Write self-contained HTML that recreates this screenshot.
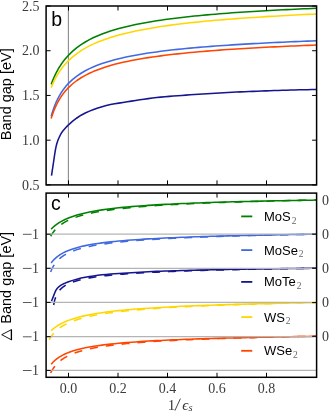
<!DOCTYPE html>
<html><head><meta charset="utf-8"><style>
html,body{margin:0;padding:0;background:#fff;width:329px;height:415px;overflow:hidden}
svg{display:block;will-change:transform}
</style></head><body>
<svg width="329" height="415" viewBox="0 0 329 415">
<rect width="329" height="415" fill="#fff"/>
<line x1="68.4" y1="6.0" x2="68.4" y2="184.9" stroke="#8c8c8c" stroke-width="1.1"/>
<path d="M51.17,84.37 L51.62,83.18 L52.06,82.03 L52.51,80.91 L52.95,79.83 L53.40,78.78 L53.84,77.76 L54.28,76.76 L54.73,75.80 L55.17,74.87 L55.62,73.96 L56.06,73.07 L56.51,72.21 L56.95,71.37 L57.39,70.55 L57.84,69.76 L58.28,68.98 L58.73,68.22 L59.17,67.48 L59.62,66.76 L60.06,66.06 L60.50,65.37 L60.95,64.70 L61.39,64.04 L61.84,63.40 L62.28,62.77 L62.73,62.15 L63.17,61.55 L63.61,60.96 L64.06,60.38 L64.50,59.82 L64.95,59.26 L65.39,58.72 L65.83,58.19 L66.28,57.67 L66.72,57.16 L67.17,56.66 L67.61,56.16 L68.06,55.68 L68.50,55.21 L72.69,51.13 L76.89,47.64 L81.08,44.63 L85.28,41.98 L89.47,39.65 L93.67,37.56 L97.86,35.68 L102.06,33.99 L106.25,32.44 L110.45,31.03 L114.64,29.73 L118.84,28.53 L123.03,27.42 L127.23,26.39 L131.42,25.43 L135.62,24.53 L139.81,23.69 L144.01,22.90 L148.20,22.15 L152.40,21.45 L156.59,20.78 L160.79,20.15 L164.98,19.55 L169.18,18.98 L173.37,18.44 L177.57,17.92 L181.76,17.43 L185.96,16.96 L190.15,16.51 L194.35,16.07 L198.54,15.66 L202.74,15.26 L206.93,14.88 L211.13,14.51 L215.32,14.15 L219.52,13.81 L223.71,13.48 L227.91,13.16 L232.10,12.85 L236.30,12.56 L240.49,12.27 L244.69,11.99 L248.88,11.72 L253.08,11.46 L257.27,11.21 L261.47,10.96 L265.66,10.72 L269.86,10.49 L274.05,10.26 L278.25,10.05 L282.44,9.83 L286.64,9.62 L290.83,9.42 L295.03,9.23 L299.22,9.03 L303.42,8.85 L307.61,8.66 L311.81,8.49 L316.00,8.31" stroke="#008000" stroke-width="1.55" fill="none" stroke-linejoin="round"/>
<path d="M51.17,87.60 L51.62,86.51 L52.06,85.45 L52.51,84.42 L52.95,83.43 L53.40,82.46 L53.84,81.52 L54.28,80.61 L54.73,79.73 L55.17,78.87 L55.62,78.03 L56.06,77.21 L56.51,76.42 L56.95,75.64 L57.39,74.89 L57.84,74.15 L58.28,73.44 L58.73,72.74 L59.17,72.05 L59.62,71.39 L60.06,70.74 L60.50,70.10 L60.95,69.47 L61.39,68.87 L61.84,68.27 L62.28,67.69 L62.73,67.12 L63.17,66.56 L63.61,66.01 L64.06,65.47 L64.50,64.95 L64.95,64.43 L65.39,63.93 L65.83,63.43 L66.28,62.94 L66.72,62.47 L67.17,62.00 L67.61,61.54 L68.06,61.09 L68.50,60.65 L72.69,56.82 L76.89,53.53 L81.08,50.67 L85.28,48.15 L89.47,45.91 L93.67,43.89 L97.86,42.08 L102.06,40.43 L106.25,38.92 L110.45,37.53 L114.64,36.25 L118.84,35.06 L123.03,33.96 L127.23,32.93 L131.42,31.96 L135.62,31.06 L139.81,30.21 L144.01,29.41 L148.20,28.65 L152.40,27.93 L156.59,27.25 L160.79,26.60 L164.98,25.98 L169.18,25.39 L173.37,24.83 L177.57,24.30 L181.76,23.78 L185.96,23.29 L190.15,22.82 L194.35,22.36 L198.54,21.93 L202.74,21.51 L206.93,21.10 L211.13,20.71 L215.32,20.34 L219.52,19.97 L223.71,19.62 L227.91,19.28 L232.10,18.95 L236.30,18.63 L240.49,18.32 L244.69,18.02 L248.88,17.73 L253.08,17.45 L257.27,17.17 L261.47,16.90 L265.66,16.64 L269.86,16.39 L274.05,16.15 L278.25,15.91 L282.44,15.67 L286.64,15.44 L290.83,15.22 L295.03,15.01 L299.22,14.79 L303.42,14.59 L307.61,14.39 L311.81,14.19 L316.00,14.00" stroke="#ffd700" stroke-width="1.55" fill="none" stroke-linejoin="round"/>
<path d="M51.17,116.33 L51.62,114.77 L52.06,113.29 L52.51,111.86 L52.95,110.51 L53.40,109.20 L53.84,107.96 L54.28,106.76 L54.73,105.61 L55.17,104.50 L55.62,103.43 L56.06,102.41 L56.51,101.42 L56.95,100.46 L57.39,99.53 L57.84,98.64 L58.28,97.78 L58.73,96.94 L59.17,96.13 L59.62,95.34 L60.06,94.58 L60.50,93.84 L60.95,93.12 L61.39,92.42 L61.84,91.74 L62.28,91.08 L62.73,90.43 L63.17,89.81 L63.61,89.20 L64.06,88.60 L64.50,88.02 L64.95,87.45 L65.39,86.90 L65.83,86.36 L66.28,85.84 L66.72,85.32 L67.17,84.82 L67.61,84.33 L68.06,83.85 L68.50,83.38 L72.69,79.39 L76.89,76.07 L81.08,73.24 L85.28,70.79 L89.47,68.65 L93.67,66.76 L97.86,65.07 L102.06,63.56 L106.25,62.18 L110.45,60.92 L114.64,59.78 L118.84,58.72 L123.03,57.74 L127.23,56.83 L131.42,55.98 L135.62,55.19 L139.81,54.45 L144.01,53.76 L148.20,53.10 L152.40,52.48 L156.59,51.90 L160.79,51.34 L164.98,50.82 L169.18,50.32 L173.37,49.84 L177.57,49.38 L181.76,48.95 L185.96,48.53 L190.15,48.13 L194.35,47.75 L198.54,47.38 L202.74,47.03 L206.93,46.69 L211.13,46.36 L215.32,46.05 L219.52,45.74 L223.71,45.45 L227.91,45.17 L232.10,44.89 L236.30,44.63 L240.49,44.37 L244.69,44.12 L248.88,43.88 L253.08,43.64 L257.27,43.42 L261.47,43.20 L265.66,42.98 L269.86,42.77 L274.05,42.57 L278.25,42.37 L282.44,42.18 L286.64,41.99 L290.83,41.81 L295.03,41.63 L299.22,41.46 L303.42,41.29 L307.61,41.12 L311.81,40.96 L316.00,40.80" stroke="#4169e1" stroke-width="1.55" fill="none" stroke-linejoin="round"/>
<path d="M51.17,118.47 L51.62,117.05 L52.06,115.70 L52.51,114.40 L52.95,113.15 L53.40,111.96 L53.84,110.81 L54.28,109.70 L54.73,108.64 L55.17,107.61 L55.62,106.62 L56.06,105.66 L56.51,104.74 L56.95,103.84 L57.39,102.98 L57.84,102.14 L58.28,101.33 L58.73,100.54 L59.17,99.77 L59.62,99.03 L60.06,98.31 L60.50,97.61 L60.95,96.93 L61.39,96.26 L61.84,95.62 L62.28,94.99 L62.73,94.37 L63.17,93.78 L63.61,93.19 L64.06,92.62 L64.50,92.07 L64.95,91.53 L65.39,91.00 L65.83,90.48 L66.28,89.97 L66.72,89.48 L67.17,89.00 L67.61,88.52 L68.06,88.06 L68.50,87.61 L72.69,83.74 L76.89,80.50 L81.08,77.73 L85.28,75.33 L89.47,73.22 L93.67,71.34 L97.86,69.67 L102.06,68.15 L106.25,66.78 L110.45,65.53 L114.64,64.37 L118.84,63.31 L123.03,62.33 L127.23,61.41 L131.42,60.56 L135.62,59.76 L139.81,59.01 L144.01,58.31 L148.20,57.64 L152.40,57.02 L156.59,56.42 L160.79,55.86 L164.98,55.32 L169.18,54.81 L173.37,54.33 L177.57,53.86 L181.76,53.42 L185.96,52.99 L190.15,52.59 L194.35,52.20 L198.54,51.82 L202.74,51.46 L206.93,51.11 L211.13,50.78 L215.32,50.45 L219.52,50.14 L223.71,49.84 L227.91,49.55 L232.10,49.27 L236.30,48.99 L240.49,48.73 L244.69,48.47 L248.88,48.22 L253.08,47.98 L257.27,47.75 L261.47,47.52 L265.66,47.30 L269.86,47.08 L274.05,46.87 L278.25,46.67 L282.44,46.47 L286.64,46.28 L290.83,46.09 L295.03,45.90 L299.22,45.72 L303.42,45.55 L307.61,45.37 L311.81,45.21 L316.00,45.04" stroke="#ff4500" stroke-width="1.55" fill="none" stroke-linejoin="round"/>
<path d="M51.50,175.60 L51.94,172.77 L52.37,169.93 L52.81,167.08 L53.24,164.21 L53.68,161.25 L54.12,158.23 L54.55,155.26 L54.99,152.47 L55.42,149.93 L55.86,147.60 L56.29,145.70 L56.73,144.05 L57.17,142.58 L57.60,141.26 L58.04,140.06 L58.47,138.97 L58.91,137.97 L59.35,137.03 L59.78,136.14 L60.22,135.27 L60.65,134.43 L61.09,133.63 L61.53,132.88 L61.96,132.20 L62.40,131.59 L62.83,131.03 L63.27,130.51 L63.71,130.02 L64.14,129.54 L64.58,129.07 L65.01,128.59 L65.45,128.09 L65.88,127.59 L66.32,127.10 L66.76,126.61 L67.19,126.14 L67.63,125.67 L68.06,125.23 L68.50,124.81 L72.69,121.18 L76.89,117.98 L81.08,115.22 L85.28,113.05 L89.47,111.13 L93.67,109.51 L97.86,108.01 L102.06,106.66 L106.25,105.53 L110.45,104.61 L114.64,103.83 L118.84,103.12 L123.03,102.47 L127.23,101.80 L131.42,101.14 L135.62,100.48 L139.81,99.83 L144.01,99.21 L148.20,98.62 L152.40,98.07 L156.59,97.57 L160.79,97.12 L164.98,96.73 L169.18,96.37 L173.37,96.05 L177.57,95.74 L181.76,95.44 L185.96,95.14 L190.15,94.84 L194.35,94.55 L198.54,94.26 L202.74,93.98 L206.93,93.70 L211.13,93.44 L215.32,93.18 L219.52,92.93 L223.71,92.69 L227.91,92.47 L232.10,92.26 L236.30,92.06 L240.49,91.88 L244.69,91.71 L248.88,91.53 L253.08,91.37 L257.27,91.20 L261.47,91.04 L265.66,90.88 L269.86,90.73 L274.05,90.58 L278.25,90.44 L282.44,90.31 L286.64,90.18 L290.83,90.06 L295.03,89.95 L299.22,89.84 L303.42,89.75 L307.61,89.66 L311.81,89.58 L316.00,89.51" stroke="#15158f" stroke-width="1.55" fill="none" stroke-linejoin="round"/>
<path d="M51.17,229.10 L51.62,228.64 L52.06,228.20 L52.51,227.78 L52.95,227.36 L53.40,226.96 L53.84,226.57 L54.28,226.20 L54.73,225.83 L55.17,225.47 L55.62,225.12 L56.06,224.79 L56.51,224.46 L56.95,224.14 L57.39,223.83 L57.84,223.52 L58.28,223.23 L58.73,222.94 L59.17,222.66 L59.62,222.38 L60.06,222.11 L60.50,221.85 L60.95,221.59 L61.39,221.34 L61.84,221.10 L62.28,220.86 L62.73,220.62 L63.17,220.39 L63.61,220.17 L64.06,219.95 L64.50,219.73 L64.95,219.52 L65.39,219.32 L65.83,219.11 L66.28,218.92 L66.72,218.72 L67.17,218.53 L67.61,218.34 L68.06,218.16 L68.50,217.98 L72.69,216.42 L76.89,215.09 L81.08,213.94 L85.28,212.94 L89.47,212.04 L93.67,211.25 L97.86,210.53 L102.06,209.89 L106.25,209.30 L110.45,208.76 L114.64,208.27 L118.84,207.81 L123.03,207.39 L127.23,206.99 L131.42,206.63 L135.62,206.28 L139.81,205.96 L144.01,205.66 L148.20,205.38 L152.40,205.11 L156.59,204.85 L160.79,204.61 L164.98,204.38 L169.18,204.17 L173.37,203.96 L177.57,203.76 L181.76,203.58 L185.96,203.40 L190.15,203.22 L194.35,203.06 L198.54,202.90 L202.74,202.75 L206.93,202.60 L211.13,202.46 L215.32,202.33 L219.52,202.20 L223.71,202.07 L227.91,201.95 L232.10,201.83 L236.30,201.72 L240.49,201.61 L244.69,201.50 L248.88,201.40 L253.08,201.30 L257.27,201.20 L261.47,201.11 L265.66,201.02 L269.86,200.93 L274.05,200.84 L278.25,200.76 L282.44,200.68 L286.64,200.60 L290.83,200.52 L295.03,200.45 L299.22,200.37 L303.42,200.30 L307.61,200.23 L311.81,200.17 L316.00,200.10" stroke="#008000" stroke-width="1.55" fill="none" stroke-linejoin="round"/>
<path d="M51.17,262.99 L51.62,262.40 L52.06,261.83 L52.51,261.29 L52.95,260.77 L53.40,260.28 L53.84,259.80 L54.28,259.34 L54.73,258.91 L55.17,258.48 L55.62,258.08 L56.06,257.69 L56.51,257.31 L56.95,256.94 L57.39,256.59 L57.84,256.25 L58.28,255.92 L58.73,255.60 L59.17,255.29 L59.62,254.99 L60.06,254.70 L60.50,254.42 L60.95,254.14 L61.39,253.88 L61.84,253.62 L62.28,253.37 L62.73,253.12 L63.17,252.88 L63.61,252.65 L64.06,252.42 L64.50,252.20 L64.95,251.99 L65.39,251.78 L65.83,251.57 L66.28,251.37 L66.72,251.17 L67.17,250.98 L67.61,250.79 L68.06,250.61 L68.50,250.43 L72.69,248.91 L76.89,247.64 L81.08,246.57 L85.28,245.63 L89.47,244.82 L93.67,244.10 L97.86,243.45 L102.06,242.88 L106.25,242.35 L110.45,241.87 L114.64,241.43 L118.84,241.03 L123.03,240.66 L127.23,240.31 L131.42,239.99 L135.62,239.69 L139.81,239.41 L144.01,239.14 L148.20,238.89 L152.40,238.65 L156.59,238.43 L160.79,238.22 L164.98,238.02 L169.18,237.83 L173.37,237.65 L177.57,237.47 L181.76,237.31 L185.96,237.15 L190.15,237.00 L194.35,236.85 L198.54,236.71 L202.74,236.58 L206.93,236.45 L211.13,236.32 L215.32,236.20 L219.52,236.09 L223.71,235.97 L227.91,235.87 L232.10,235.76 L236.30,235.66 L240.49,235.56 L244.69,235.47 L248.88,235.37 L253.08,235.28 L257.27,235.20 L261.47,235.11 L265.66,235.03 L269.86,234.95 L274.05,234.87 L278.25,234.80 L282.44,234.73 L286.64,234.65 L290.83,234.58 L295.03,234.52 L299.22,234.45 L303.42,234.39 L307.61,234.32 L311.81,234.26 L316.00,234.20" stroke="#4169e1" stroke-width="1.55" fill="none" stroke-linejoin="round"/>
<path d="M51.50,301.12 L51.94,300.04 L52.37,298.96 L52.81,297.87 L53.24,296.78 L53.68,295.65 L54.12,294.49 L54.55,293.36 L54.99,292.30 L55.42,291.33 L55.86,290.44 L56.29,289.72 L56.73,289.09 L57.17,288.53 L57.60,288.03 L58.04,287.57 L58.47,287.15 L58.91,286.77 L59.35,286.41 L59.78,286.07 L60.22,285.74 L60.65,285.42 L61.09,285.12 L61.53,284.83 L61.96,284.57 L62.40,284.34 L62.83,284.13 L63.27,283.93 L63.71,283.74 L64.14,283.56 L64.58,283.38 L65.01,283.19 L65.45,283.01 L65.88,282.82 L66.32,282.63 L66.76,282.44 L67.19,282.26 L67.63,282.08 L68.06,281.92 L68.50,281.75 L72.69,280.37 L76.89,279.15 L81.08,278.10 L85.28,277.27 L89.47,276.54 L93.67,275.92 L97.86,275.35 L102.06,274.84 L106.25,274.40 L110.45,274.06 L114.64,273.76 L118.84,273.49 L123.03,273.24 L127.23,272.99 L131.42,272.73 L135.62,272.48 L139.81,272.23 L144.01,272.00 L148.20,271.77 L152.40,271.56 L156.59,271.37 L160.79,271.20 L164.98,271.05 L169.18,270.91 L173.37,270.79 L177.57,270.67 L181.76,270.56 L185.96,270.44 L190.15,270.33 L194.35,270.22 L198.54,270.11 L202.74,270.00 L206.93,269.90 L211.13,269.79 L215.32,269.70 L219.52,269.60 L223.71,269.51 L227.91,269.43 L232.10,269.35 L236.30,269.27 L240.49,269.20 L244.69,269.14 L248.88,269.07 L253.08,269.01 L257.27,268.94 L261.47,268.88 L265.66,268.82 L269.86,268.76 L274.05,268.71 L278.25,268.65 L282.44,268.60 L286.64,268.55 L290.83,268.51 L295.03,268.47 L299.22,268.43 L303.42,268.39 L307.61,268.36 L311.81,268.33 L316.00,268.30" stroke="#15158f" stroke-width="1.55" fill="none" stroke-linejoin="round"/>
<path d="M51.17,330.66 L51.62,330.24 L52.06,329.84 L52.51,329.45 L52.95,329.07 L53.40,328.70 L53.84,328.34 L54.28,328.00 L54.73,327.66 L55.17,327.33 L55.62,327.01 L56.06,326.70 L56.51,326.40 L56.95,326.10 L57.39,325.81 L57.84,325.53 L58.28,325.26 L58.73,324.99 L59.17,324.73 L59.62,324.48 L60.06,324.23 L60.50,323.99 L60.95,323.75 L61.39,323.52 L61.84,323.29 L62.28,323.07 L62.73,322.85 L63.17,322.64 L63.61,322.43 L64.06,322.22 L64.50,322.02 L64.95,321.83 L65.39,321.63 L65.83,321.45 L66.28,321.26 L66.72,321.08 L67.17,320.90 L67.61,320.72 L68.06,320.55 L68.50,320.38 L72.69,318.92 L76.89,317.67 L81.08,316.58 L85.28,315.62 L89.47,314.76 L93.67,314.00 L97.86,313.31 L102.06,312.68 L106.25,312.10 L110.45,311.57 L114.64,311.08 L118.84,310.63 L123.03,310.21 L127.23,309.82 L131.42,309.45 L135.62,309.10 L139.81,308.78 L144.01,308.47 L148.20,308.19 L152.40,307.91 L156.59,307.65 L160.79,307.40 L164.98,307.17 L169.18,306.95 L173.37,306.73 L177.57,306.53 L181.76,306.33 L185.96,306.14 L190.15,305.96 L194.35,305.79 L198.54,305.62 L202.74,305.46 L206.93,305.31 L211.13,305.16 L215.32,305.02 L219.52,304.88 L223.71,304.74 L227.91,304.61 L232.10,304.49 L236.30,304.37 L240.49,304.25 L244.69,304.13 L248.88,304.02 L253.08,303.92 L257.27,303.81 L261.47,303.71 L265.66,303.61 L269.86,303.51 L274.05,303.42 L278.25,303.33 L282.44,303.24 L286.64,303.15 L290.83,303.07 L295.03,302.98 L299.22,302.90 L303.42,302.83 L307.61,302.75 L311.81,302.67 L316.00,302.60" stroke="#ffd700" stroke-width="1.55" fill="none" stroke-linejoin="round"/>
<path d="M51.17,364.29 L51.62,363.75 L52.06,363.23 L52.51,362.74 L52.95,362.26 L53.40,361.81 L53.84,361.37 L54.28,360.95 L54.73,360.54 L55.17,360.15 L55.62,359.77 L56.06,359.41 L56.51,359.06 L56.95,358.72 L57.39,358.39 L57.84,358.07 L58.28,357.76 L58.73,357.46 L59.17,357.16 L59.62,356.88 L60.06,356.61 L60.50,356.34 L60.95,356.08 L61.39,355.83 L61.84,355.58 L62.28,355.34 L62.73,355.11 L63.17,354.88 L63.61,354.66 L64.06,354.44 L64.50,354.23 L64.95,354.02 L65.39,353.82 L65.83,353.62 L66.28,353.43 L66.72,353.24 L67.17,353.06 L67.61,352.88 L68.06,352.70 L68.50,352.53 L72.69,351.05 L76.89,349.82 L81.08,348.76 L85.28,347.85 L89.47,347.04 L93.67,346.33 L97.86,345.69 L102.06,345.11 L106.25,344.59 L110.45,344.11 L114.64,343.67 L118.84,343.26 L123.03,342.89 L127.23,342.54 L131.42,342.22 L135.62,341.91 L139.81,341.63 L144.01,341.36 L148.20,341.10 L152.40,340.86 L156.59,340.64 L160.79,340.42 L164.98,340.22 L169.18,340.02 L173.37,339.84 L177.57,339.66 L181.76,339.49 L185.96,339.33 L190.15,339.18 L194.35,339.03 L198.54,338.88 L202.74,338.75 L206.93,338.61 L211.13,338.49 L215.32,338.36 L219.52,338.24 L223.71,338.13 L227.91,338.02 L232.10,337.91 L236.30,337.81 L240.49,337.70 L244.69,337.61 L248.88,337.51 L253.08,337.42 L257.27,337.33 L261.47,337.24 L265.66,337.16 L269.86,337.08 L274.05,337.00 L278.25,336.92 L282.44,336.84 L286.64,336.77 L290.83,336.70 L295.03,336.63 L299.22,336.56 L303.42,336.49 L307.61,336.43 L311.81,336.36 L316.00,336.30" stroke="#ff4500" stroke-width="1.55" fill="none" stroke-linejoin="round"/>
<path d="M50.68,236.24 L51.14,235.44 L51.59,234.68 L52.05,233.97 L52.51,233.28 L52.96,232.63 L53.42,232.01 L53.88,231.42 L54.34,230.85 L54.79,230.31 L55.25,229.78 L55.71,229.28 L56.16,228.80 L56.62,228.34 L57.08,227.89 L57.53,227.46 L57.99,227.04 L58.45,226.64 L58.90,226.25 L59.36,225.87 L59.82,225.51 L60.28,225.15 L60.73,224.81 L61.19,224.48 L61.65,224.16 L62.10,223.84 L62.56,223.54 L63.02,223.24 L63.47,222.95 L63.93,222.67 L64.39,222.40 L64.84,222.13 L65.30,221.87 L65.76,221.62 L66.22,221.37 L66.67,221.13 L67.13,220.89 L67.59,220.66 L68.04,220.44 L68.50,220.21 L72.69,218.40 L76.89,216.88 L81.08,215.58 L85.28,214.46 L89.47,213.47 L93.67,212.60 L97.86,211.81 L102.06,211.11 L106.25,210.46 L110.45,209.87 L114.64,209.33 L118.84,208.84 L123.03,208.37 L127.23,207.94 L131.42,207.54 L135.62,207.16 L139.81,206.81 L144.01,206.47 L148.20,206.16 L152.40,205.86 L156.59,205.58 L160.79,205.31 L164.98,205.05 L169.18,204.81 L173.37,204.58 L177.57,204.36 L181.76,204.14 L185.96,203.94 L190.15,203.74 L194.35,203.55 L198.54,203.37 L202.74,203.20 L206.93,203.03 L211.13,202.87 L215.32,202.71 L219.52,202.56 L223.71,202.41 L227.91,202.27 L232.10,202.13 L236.30,202.00 L240.49,201.87 L244.69,201.75 L248.88,201.63 L253.08,201.51 L257.27,201.39 L261.47,201.28 L265.66,201.17 L269.86,201.07 L274.05,200.96 L278.25,200.86 L282.44,200.76 L286.64,200.67 L290.83,200.57 L295.03,200.48 L299.22,200.39 L303.42,200.31 L307.61,200.22 L311.81,200.14 L316.00,200.06" stroke="#008000" stroke-width="1.55" fill="none" stroke-dasharray="8 8"/>
<path d="M50.68,271.98 L51.14,270.81 L51.59,269.73 L52.05,268.74 L52.51,267.81 L52.96,266.95 L53.42,266.14 L53.88,265.38 L54.34,264.67 L54.79,263.99 L55.25,263.36 L55.71,262.75 L56.16,262.18 L56.62,261.64 L57.08,261.12 L57.53,260.62 L57.99,260.15 L58.45,259.69 L58.90,259.26 L59.36,258.84 L59.82,258.44 L60.28,258.05 L60.73,257.68 L61.19,257.32 L61.65,256.98 L62.10,256.64 L62.56,256.32 L63.02,256.01 L63.47,255.71 L63.93,255.41 L64.39,255.13 L64.84,254.85 L65.30,254.58 L65.76,254.32 L66.22,254.07 L66.67,253.83 L67.13,253.59 L67.59,253.35 L68.04,253.13 L68.50,252.91 L72.69,251.11 L76.89,249.63 L81.08,248.39 L85.28,247.33 L89.47,246.41 L93.67,245.59 L97.86,244.87 L102.06,244.22 L106.25,243.63 L110.45,243.09 L114.64,242.59 L118.84,242.14 L123.03,241.72 L127.23,241.33 L131.42,240.96 L135.62,240.62 L139.81,240.30 L144.01,239.99 L148.20,239.71 L152.40,239.44 L156.59,239.18 L160.79,238.94 L164.98,238.71 L169.18,238.49 L173.37,238.28 L177.57,238.07 L181.76,237.88 L185.96,237.69 L190.15,237.52 L194.35,237.35 L198.54,237.18 L202.74,237.02 L206.93,236.87 L211.13,236.72 L215.32,236.58 L219.52,236.44 L223.71,236.31 L227.91,236.18 L232.10,236.05 L236.30,235.93 L240.49,235.81 L244.69,235.70 L248.88,235.59 L253.08,235.48 L257.27,235.38 L261.47,235.27 L265.66,235.17 L269.86,235.08 L274.05,234.98 L278.25,234.89 L282.44,234.80 L286.64,234.71 L290.83,234.63 L295.03,234.54 L299.22,234.46 L303.42,234.38 L307.61,234.30 L311.81,234.23 L316.00,234.15" stroke="#4169e1" stroke-width="1.55" fill="none" stroke-dasharray="8 8"/>
<path d="M53.65,304.98 L54.03,303.00 L54.41,301.33 L54.79,299.89 L55.17,298.63 L55.55,297.52 L55.93,296.52 L56.32,295.62 L56.70,294.80 L57.08,294.05 L57.46,293.36 L57.84,292.72 L58.22,292.13 L58.60,291.57 L58.98,291.05 L59.36,290.57 L59.74,290.11 L60.12,289.67 L60.50,289.26 L60.88,288.87 L61.27,288.50 L61.65,288.15 L62.03,287.81 L62.41,287.49 L62.79,287.18 L63.17,286.89 L63.55,286.60 L63.93,286.33 L64.31,286.07 L64.69,285.81 L65.07,285.57 L65.45,285.33 L65.83,285.11 L66.22,284.89 L66.60,284.67 L66.98,284.47 L67.36,284.27 L67.74,284.07 L68.12,283.88 L68.50,283.70 L72.69,281.98 L76.89,280.64 L81.08,279.55 L85.28,278.65 L89.47,277.88 L93.67,277.21 L97.86,276.62 L102.06,276.09 L106.25,275.62 L110.45,275.20 L114.64,274.81 L118.84,274.45 L123.03,274.12 L127.23,273.81 L131.42,273.53 L135.62,273.26 L139.81,273.01 L144.01,272.77 L148.20,272.55 L152.40,272.34 L156.59,272.14 L160.79,271.95 L164.98,271.77 L169.18,271.60 L173.37,271.44 L177.57,271.28 L181.76,271.13 L185.96,270.99 L190.15,270.85 L194.35,270.71 L198.54,270.59 L202.74,270.46 L206.93,270.34 L211.13,270.23 L215.32,270.12 L219.52,270.01 L223.71,269.90 L227.91,269.80 L232.10,269.71 L236.30,269.61 L240.49,269.52 L244.69,269.43 L248.88,269.34 L253.08,269.26 L257.27,269.17 L261.47,269.09 L265.66,269.01 L269.86,268.94 L274.05,268.86 L278.25,268.79 L282.44,268.72 L286.64,268.65 L290.83,268.58 L295.03,268.51 L299.22,268.45 L303.42,268.39 L307.61,268.32 L311.81,268.26 L316.00,268.20" stroke="#15158f" stroke-width="1.55" fill="none" stroke-dasharray="8 8"/>
<path d="M49.20,339.79 L49.69,338.92 L50.19,338.11 L50.68,337.33 L51.17,336.60 L51.67,335.90 L52.16,335.24 L52.66,334.60 L53.16,334.00 L53.65,333.42 L54.15,332.87 L54.64,332.34 L55.13,331.83 L55.63,331.34 L56.12,330.87 L56.62,330.42 L57.12,329.98 L57.61,329.56 L58.11,329.15 L58.60,328.76 L59.09,328.37 L59.59,328.01 L60.09,327.65 L60.58,327.30 L61.08,326.97 L61.57,326.64 L62.06,326.32 L62.56,326.01 L63.05,325.72 L63.55,325.42 L64.05,325.14 L64.54,324.86 L65.03,324.59 L65.53,324.33 L66.03,324.08 L66.52,323.83 L67.02,323.58 L67.51,323.34 L68.00,323.11 L68.50,322.88 L72.69,321.14 L76.89,319.67 L81.08,318.41 L85.28,317.31 L89.47,316.33 L93.67,315.47 L97.86,314.68 L102.06,313.98 L106.25,313.33 L110.45,312.74 L114.64,312.19 L118.84,311.69 L123.03,311.22 L127.23,310.78 L131.42,310.37 L135.62,309.98 L139.81,309.62 L144.01,309.28 L148.20,308.95 L152.40,308.65 L156.59,308.36 L160.79,308.08 L164.98,307.82 L169.18,307.56 L173.37,307.32 L177.57,307.09 L181.76,306.87 L185.96,306.66 L190.15,306.45 L194.35,306.26 L198.54,306.07 L202.74,305.89 L206.93,305.71 L211.13,305.54 L215.32,305.38 L219.52,305.22 L223.71,305.07 L227.91,304.92 L232.10,304.77 L236.30,304.64 L240.49,304.50 L244.69,304.37 L248.88,304.24 L253.08,304.12 L257.27,303.99 L261.47,303.88 L265.66,303.76 L269.86,303.65 L274.05,303.54 L278.25,303.44 L282.44,303.33 L286.64,303.23 L290.83,303.13 L295.03,303.03 L299.22,302.94 L303.42,302.85 L307.61,302.76 L311.81,302.67 L316.00,302.58" stroke="#ffd700" stroke-width="1.55" fill="none" stroke-dasharray="8 8"/>
<path d="M50.68,372.98 L51.14,372.06 L51.59,371.20 L52.05,370.39 L52.51,369.62 L52.96,368.90 L53.42,368.21 L53.88,367.55 L54.34,366.92 L54.79,366.32 L55.25,365.75 L55.71,365.21 L56.16,364.68 L56.62,364.18 L57.08,363.70 L57.53,363.23 L57.99,362.79 L58.45,362.36 L58.90,361.94 L59.36,361.54 L59.82,361.16 L60.28,360.78 L60.73,360.42 L61.19,360.07 L61.65,359.73 L62.10,359.40 L62.56,359.08 L63.02,358.77 L63.47,358.47 L63.93,358.18 L64.39,357.90 L64.84,357.62 L65.30,357.35 L65.76,357.09 L66.22,356.83 L66.67,356.59 L67.13,356.34 L67.59,356.11 L68.04,355.88 L68.50,355.65 L72.69,353.80 L76.89,352.27 L81.08,350.98 L85.28,349.87 L89.47,348.90 L93.67,348.05 L97.86,347.28 L102.06,346.60 L106.25,345.98 L110.45,345.41 L114.64,344.90 L118.84,344.42 L123.03,343.98 L127.23,343.57 L131.42,343.19 L135.62,342.84 L139.81,342.50 L144.01,342.19 L148.20,341.90 L152.40,341.62 L156.59,341.35 L160.79,341.10 L164.98,340.86 L169.18,340.64 L173.37,340.42 L177.57,340.22 L181.76,340.02 L185.96,339.83 L190.15,339.65 L194.35,339.48 L198.54,339.31 L202.74,339.15 L206.93,339.00 L211.13,338.85 L215.32,338.70 L219.52,338.57 L223.71,338.43 L227.91,338.30 L232.10,338.18 L236.30,338.06 L240.49,337.94 L244.69,337.83 L248.88,337.72 L253.08,337.61 L257.27,337.50 L261.47,337.40 L265.66,337.30 L269.86,337.21 L274.05,337.12 L278.25,337.02 L282.44,336.94 L286.64,336.85 L290.83,336.77 L295.03,336.68 L299.22,336.60 L303.42,336.53 L307.61,336.45 L311.81,336.37 L316.00,336.30" stroke="#ff4500" stroke-width="1.55" fill="none" stroke-dasharray="8 8"/>
<line x1="46.1" y1="234.20" x2="316.6" y2="234.20" stroke="#b4b4b4" stroke-width="1.2"/>
<line x1="46.1" y1="268.30" x2="316.6" y2="268.30" stroke="#b4b4b4" stroke-width="1.2"/>
<line x1="46.1" y1="302.40" x2="316.6" y2="302.40" stroke="#b4b4b4" stroke-width="1.2"/>
<line x1="46.1" y1="336.70" x2="316.6" y2="336.70" stroke="#b4b4b4" stroke-width="1.2"/>
<line x1="46.1" y1="370.40" x2="316.6" y2="370.40" stroke="#b4b4b4" stroke-width="1.2"/>
<line x1="46.1" y1="6.0" x2="50.6" y2="6.0" stroke="#000" stroke-width="1"/>
<line x1="312.1" y1="6.0" x2="316.6" y2="6.0" stroke="#000" stroke-width="1"/>
<line x1="46.1" y1="50.725" x2="50.6" y2="50.725" stroke="#000" stroke-width="1"/>
<line x1="312.1" y1="50.725" x2="316.6" y2="50.725" stroke="#000" stroke-width="1"/>
<line x1="46.1" y1="95.45" x2="50.6" y2="95.45" stroke="#000" stroke-width="1"/>
<line x1="312.1" y1="95.45" x2="316.6" y2="95.45" stroke="#000" stroke-width="1"/>
<line x1="46.1" y1="140.175" x2="50.6" y2="140.175" stroke="#000" stroke-width="1"/>
<line x1="312.1" y1="140.175" x2="316.6" y2="140.175" stroke="#000" stroke-width="1"/>
<line x1="46.1" y1="184.9" x2="50.6" y2="184.9" stroke="#000" stroke-width="1"/>
<line x1="312.1" y1="184.9" x2="316.6" y2="184.9" stroke="#000" stroke-width="1"/>
<line x1="68.5" y1="6.0" x2="68.5" y2="10.5" stroke="#000" stroke-width="1"/>
<line x1="68.5" y1="180.4" x2="68.5" y2="184.9" stroke="#000" stroke-width="1"/>
<line x1="68.5" y1="193.1" x2="68.5" y2="197.6" stroke="#000" stroke-width="1"/>
<line x1="68.5" y1="372.8" x2="68.5" y2="377.3" stroke="#000" stroke-width="1"/>
<line x1="118.0" y1="6.0" x2="118.0" y2="10.5" stroke="#000" stroke-width="1"/>
<line x1="118.0" y1="180.4" x2="118.0" y2="184.9" stroke="#000" stroke-width="1"/>
<line x1="118.0" y1="193.1" x2="118.0" y2="197.6" stroke="#000" stroke-width="1"/>
<line x1="118.0" y1="372.8" x2="118.0" y2="377.3" stroke="#000" stroke-width="1"/>
<line x1="167.5" y1="6.0" x2="167.5" y2="10.5" stroke="#000" stroke-width="1"/>
<line x1="167.5" y1="180.4" x2="167.5" y2="184.9" stroke="#000" stroke-width="1"/>
<line x1="167.5" y1="193.1" x2="167.5" y2="197.6" stroke="#000" stroke-width="1"/>
<line x1="167.5" y1="372.8" x2="167.5" y2="377.3" stroke="#000" stroke-width="1"/>
<line x1="217.0" y1="6.0" x2="217.0" y2="10.5" stroke="#000" stroke-width="1"/>
<line x1="217.0" y1="180.4" x2="217.0" y2="184.9" stroke="#000" stroke-width="1"/>
<line x1="217.0" y1="193.1" x2="217.0" y2="197.6" stroke="#000" stroke-width="1"/>
<line x1="217.0" y1="372.8" x2="217.0" y2="377.3" stroke="#000" stroke-width="1"/>
<line x1="266.5" y1="6.0" x2="266.5" y2="10.5" stroke="#000" stroke-width="1"/>
<line x1="266.5" y1="180.4" x2="266.5" y2="184.9" stroke="#000" stroke-width="1"/>
<line x1="266.5" y1="193.1" x2="266.5" y2="197.6" stroke="#000" stroke-width="1"/>
<line x1="266.5" y1="372.8" x2="266.5" y2="377.3" stroke="#000" stroke-width="1"/>
<line x1="46.1" y1="234.2" x2="50.6" y2="234.2" stroke="#000" stroke-width="1"/>
<line x1="46.1" y1="268.3" x2="50.6" y2="268.3" stroke="#000" stroke-width="1"/>
<line x1="312.1" y1="234.2" x2="316.6" y2="234.2" stroke="#000" stroke-width="1"/>
<line x1="46.1" y1="302.40000000000003" x2="50.6" y2="302.40000000000003" stroke="#000" stroke-width="1"/>
<line x1="312.1" y1="268.3" x2="316.6" y2="268.3" stroke="#000" stroke-width="1"/>
<line x1="46.1" y1="336.70000000000005" x2="50.6" y2="336.70000000000005" stroke="#000" stroke-width="1"/>
<line x1="312.1" y1="302.6" x2="316.6" y2="302.6" stroke="#000" stroke-width="1"/>
<line x1="46.1" y1="370.40000000000003" x2="50.6" y2="370.40000000000003" stroke="#000" stroke-width="1"/>
<line x1="312.1" y1="336.3" x2="316.6" y2="336.3" stroke="#000" stroke-width="1"/>
<rect x="46.1" y="6.0" width="270.5" height="178.9" fill="none" stroke="#000" stroke-width="1.5"/>
<rect x="46.1" y="193.1" width="270.5" height="184.20000000000002" fill="none" stroke="#000" stroke-width="1.5"/>
<text x="39.5" y="10.6" text-anchor="end" font-family="Liberation Serif" font-size="14" fill="#3c3c3c">2.5</text>
<text x="39.5" y="55.325" text-anchor="end" font-family="Liberation Serif" font-size="14" fill="#3c3c3c">2.0</text>
<text x="39.5" y="100.05" text-anchor="end" font-family="Liberation Serif" font-size="14" fill="#3c3c3c">1.5</text>
<text x="39.5" y="144.775" text-anchor="end" font-family="Liberation Serif" font-size="14" fill="#3c3c3c">1.0</text>
<text x="39.5" y="189.5" text-anchor="end" font-family="Liberation Serif" font-size="14" fill="#3c3c3c">0.5</text>
<text x="39" y="238.79999999999998" text-anchor="end" font-family="Liberation Serif" font-size="14" fill="#3c3c3c">1</text>
<line x1="22.9" y1="234.29999999999998" x2="31.6" y2="234.29999999999998" stroke="#3c3c3c" stroke-width="0.85"/>
<text x="322" y="204.7" font-family="Liberation Serif" font-size="14" fill="#3c3c3c">0</text>
<text x="39" y="272.90000000000003" text-anchor="end" font-family="Liberation Serif" font-size="14" fill="#3c3c3c">1</text>
<line x1="22.9" y1="268.40000000000003" x2="31.6" y2="268.40000000000003" stroke="#3c3c3c" stroke-width="0.85"/>
<text x="322" y="238.79999999999998" font-family="Liberation Serif" font-size="14" fill="#3c3c3c">0</text>
<text x="39" y="307.00000000000006" text-anchor="end" font-family="Liberation Serif" font-size="14" fill="#3c3c3c">1</text>
<line x1="22.9" y1="302.50000000000006" x2="31.6" y2="302.50000000000006" stroke="#3c3c3c" stroke-width="0.85"/>
<text x="322" y="272.90000000000003" font-family="Liberation Serif" font-size="14" fill="#3c3c3c">0</text>
<text x="39" y="341.30000000000007" text-anchor="end" font-family="Liberation Serif" font-size="14" fill="#3c3c3c">1</text>
<line x1="22.9" y1="336.80000000000007" x2="31.6" y2="336.80000000000007" stroke="#3c3c3c" stroke-width="0.85"/>
<text x="322" y="307.20000000000005" font-family="Liberation Serif" font-size="14" fill="#3c3c3c">0</text>
<text x="39" y="375.00000000000006" text-anchor="end" font-family="Liberation Serif" font-size="14" fill="#3c3c3c">1</text>
<line x1="22.9" y1="370.50000000000006" x2="31.6" y2="370.50000000000006" stroke="#3c3c3c" stroke-width="0.85"/>
<text x="322" y="340.90000000000003" font-family="Liberation Serif" font-size="14" fill="#3c3c3c">0</text>
<text x="68.5" y="392.5" text-anchor="middle" font-family="Liberation Serif" font-size="14" fill="#3c3c3c">0.0</text>
<text x="118.0" y="392.5" text-anchor="middle" font-family="Liberation Serif" font-size="14" fill="#3c3c3c">0.2</text>
<text x="167.5" y="392.5" text-anchor="middle" font-family="Liberation Serif" font-size="14" fill="#3c3c3c">0.4</text>
<text x="217.0" y="392.5" text-anchor="middle" font-family="Liberation Serif" font-size="14" fill="#3c3c3c">0.6</text>
<text x="266.5" y="392.5" text-anchor="middle" font-family="Liberation Serif" font-size="14" fill="#3c3c3c">0.8</text>
<text x="167.8" y="409.5" font-family="Liberation Serif" font-size="15" fill="#3c3c3c">1</text>
<line x1="174.9" y1="410.6" x2="180.4" y2="398.6" stroke="#3c3c3c" stroke-width="0.95"/>
<text x="182.3" y="409.6" font-family="Liberation Serif" font-style="italic" font-size="15" fill="#3c3c3c">ϵ</text>
<text x="188.6" y="411.2" font-family="Liberation Serif" font-style="italic" font-size="10.5" fill="#3c3c3c">s</text>
<text x="51.3" y="25.5" font-size="19.5" font-family="Liberation Sans" fill="#000">b</text>
<text x="51" y="209.5" font-size="19.5" font-family="Liberation Sans" fill="#000">c</text>
<text transform="translate(11.4,94.2) rotate(-90)" text-anchor="middle" font-size="14.5" font-family="Liberation Sans" fill="#000">Band gap [eV]</text>
<text transform="translate(11.4,277.8) rotate(-90)" text-anchor="middle" font-size="14.5" font-family="Liberation Sans" fill="#000">Band gap [eV]</text>
<path d="M11.4,329.7 L1.7,334.7 L11.4,339.8" fill="none" stroke="#000" stroke-width="0.9"/><line x1="11.4" y1="329.4" x2="11.4" y2="340.1" stroke="#000" stroke-width="1.3"/>
<line x1="241.2" y1="216.4" x2="252.3" y2="216.4" stroke="#008000" stroke-width="1.8"/>
<text x="264" y="220.9" font-size="13" font-family="Liberation Sans" fill="#000">MoS<tspan font-family="Liberation Serif" font-size="9.5" fill="#666" dx="0.9" dy="2.6">2</tspan></text>
<line x1="241.2" y1="250.1" x2="252.3" y2="250.1" stroke="#4169e1" stroke-width="1.8"/>
<text x="264" y="254.6" font-size="13" font-family="Liberation Sans" fill="#000">MoSe<tspan font-family="Liberation Serif" font-size="9.5" fill="#666" dx="0.9" dy="2.6">2</tspan></text>
<line x1="241.2" y1="281.9" x2="252.3" y2="281.9" stroke="#15158f" stroke-width="1.8"/>
<text x="264" y="286.4" font-size="13" font-family="Liberation Sans" fill="#000">MoTe<tspan font-family="Liberation Serif" font-size="9.5" fill="#666" dx="0.9" dy="2.6">2</tspan></text>
<line x1="241.2" y1="317.1" x2="252.3" y2="317.1" stroke="#ffd700" stroke-width="1.8"/>
<text x="264" y="321.6" font-size="13" font-family="Liberation Sans" fill="#000">WS<tspan font-family="Liberation Serif" font-size="9.5" fill="#666" dx="0.9" dy="2.6">2</tspan></text>
<line x1="241.2" y1="350.8" x2="252.3" y2="350.8" stroke="#ff4500" stroke-width="1.8"/>
<text x="264" y="355.3" font-size="13" font-family="Liberation Sans" fill="#000">WSe<tspan font-family="Liberation Serif" font-size="9.5" fill="#666" dx="0.9" dy="2.6">2</tspan></text>
</svg></body></html>
